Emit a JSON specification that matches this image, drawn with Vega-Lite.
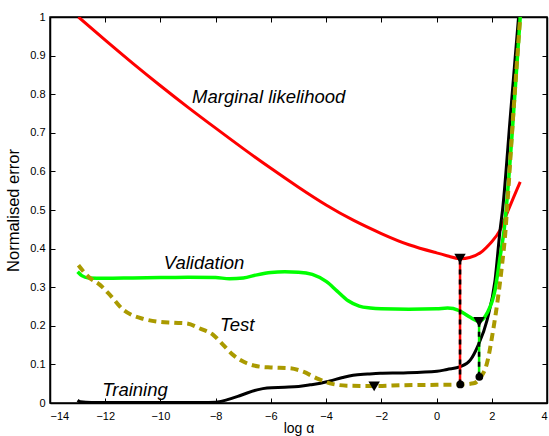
{
  "$schema": "https://vega.github.io/schema/vega-lite/v6.json",
  "width": 497,
  "height": 386,
  "autosize": {"type": "none"},
  "padding": {"left": 50, "top": 17, "right": 2, "bottom": 33},
  "background": "white",
  "config": {
    "view": {"stroke": "black", "strokeWidth": 1.5},
    "font": "Liberation Sans",
    "axis": {
      "grid": false,
      "domainColor": "black",
      "domainWidth": 1.5,
      "tickColor": "black",
      "tickWidth": 1,
      "tickSize": -5,
      "labelColor": "black",
      "labelFont": "Liberation Sans",
      "labelFontSize": 11,
      "titleFont": "Liberation Sans",
      "titleFontWeight": "normal",
      "titleColor": "black"
    }
  },
  "datasets": {
    "red": [
      {"x": -12.97, "y": 1.0}, {"x": -12, "y": 0.94}, {"x": -11, "y": 0.88}, {"x": -10, "y": 0.822},
      {"x": -9, "y": 0.766}, {"x": -8, "y": 0.712}, {"x": -7, "y": 0.659}, {"x": -6, "y": 0.608},
      {"x": -5, "y": 0.559}, {"x": -4, "y": 0.513}, {"x": -3, "y": 0.473}, {"x": -2, "y": 0.439},
      {"x": -1, "y": 0.41}, {"x": 0, "y": 0.389}, {"x": 0.5, "y": 0.379}, {"x": 0.85, "y": 0.374},
      {"x": 1.2, "y": 0.377}, {"x": 1.6, "y": 0.39}, {"x": 2.0, "y": 0.418}, {"x": 2.3, "y": 0.448},
      {"x": 2.6, "y": 0.5}, {"x": 3.03, "y": 0.573}
    ],
    "green": [
      {"x": -13, "y": 0.34}, {"x": -12.85, "y": 0.33}, {"x": -12.6, "y": 0.324}, {"x": -12, "y": 0.323},
      {"x": -11, "y": 0.324}, {"x": -10, "y": 0.325}, {"x": -9, "y": 0.326}, {"x": -8, "y": 0.325},
      {"x": -7.5, "y": 0.322}, {"x": -7, "y": 0.324}, {"x": -6.5, "y": 0.332}, {"x": -6, "y": 0.338},
      {"x": -5.5, "y": 0.34}, {"x": -5, "y": 0.339}, {"x": -4.5, "y": 0.333}, {"x": -4, "y": 0.315},
      {"x": -3.6, "y": 0.29}, {"x": -3.2, "y": 0.265}, {"x": -2.8, "y": 0.251}, {"x": -2.4, "y": 0.246},
      {"x": -2, "y": 0.244}, {"x": -1, "y": 0.243}, {"x": 0, "y": 0.244}, {"x": 0.4, "y": 0.246},
      {"x": 0.8, "y": 0.24}, {"x": 1.0, "y": 0.232}, {"x": 1.22, "y": 0.222}, {"x": 1.54, "y": 0.212},
      {"x": 1.83, "y": 0.233}, {"x": 2.12, "y": 0.293}, {"x": 2.3, "y": 0.378}, {"x": 2.45, "y": 0.45},
      {"x": 2.74, "y": 0.7}, {"x": 3.03, "y": 1.0}
    ],
    "black": [
      {"x": -13, "y": 0.007}, {"x": -12.9, "y": 0.003}, {"x": -12.5, "y": 0.001}, {"x": -10, "y": 0.001},
      {"x": -8.5, "y": 0.001}, {"x": -8, "y": 0.002}, {"x": -7.6, "y": 0.008}, {"x": -7.2, "y": 0.017},
      {"x": -6.86, "y": 0.026}, {"x": -6.5, "y": 0.034}, {"x": -6.14, "y": 0.039}, {"x": -5.5, "y": 0.041},
      {"x": -5, "y": 0.043}, {"x": -4.58, "y": 0.047}, {"x": -4.2, "y": 0.051}, {"x": -3.86, "y": 0.057},
      {"x": -3.4, "y": 0.066}, {"x": -3.02, "y": 0.072}, {"x": -2.5, "y": 0.075}, {"x": -2.04, "y": 0.077},
      {"x": -1.2, "y": 0.078}, {"x": 0.02, "y": 0.082}, {"x": 0.38, "y": 0.087}, {"x": 0.86, "y": 0.094},
      {"x": 1.22, "y": 0.111}, {"x": 1.51, "y": 0.15}, {"x": 1.83, "y": 0.215}, {"x": 2.12, "y": 0.319},
      {"x": 2.3, "y": 0.448}, {"x": 2.39, "y": 0.5}, {"x": 2.68, "y": 0.75}, {"x": 2.97, "y": 1.0}
    ],
    "test": [
      {"x": -12.97, "y": 0.357}, {"x": -12.61, "y": 0.327}, {"x": -12.19, "y": 0.306}, {"x": -11.83, "y": 0.28},
      {"x": -11.34, "y": 0.241}, {"x": -11.04, "y": 0.228}, {"x": -10.62, "y": 0.218}, {"x": -10.13, "y": 0.211},
      {"x": -9.53, "y": 0.208}, {"x": -9.05, "y": 0.206}, {"x": -8.57, "y": 0.193}, {"x": -8.08, "y": 0.176},
      {"x": -7.72, "y": 0.15}, {"x": -7.36, "y": 0.124}, {"x": -6.87, "y": 0.103}, {"x": -6.39, "y": 0.094},
      {"x": -6.0, "y": 0.092}, {"x": -5.3, "y": 0.09}, {"x": -4.83, "y": 0.081}, {"x": -4.34, "y": 0.064},
      {"x": -3.86, "y": 0.051}, {"x": -3.25, "y": 0.045}, {"x": -2.26, "y": 0.044}, {"x": -1.2, "y": 0.046},
      {"x": 0.01, "y": 0.047}, {"x": 0.86, "y": 0.048}, {"x": 1.34, "y": 0.051}, {"x": 1.58, "y": 0.065},
      {"x": 1.83, "y": 0.104}, {"x": 2.05, "y": 0.189}, {"x": 2.23, "y": 0.275}, {"x": 2.38, "y": 0.363},
      {"x": 2.49, "y": 0.44}, {"x": 2.55, "y": 0.5}, {"x": 2.78, "y": 0.75}, {"x": 3.03, "y": 1.0}
    ],
    "rules": [
      {"x": 0.85, "y": 0.048, "y2": 0.374, "c": "red"},
      {"x": 1.54, "y": 0.068, "y2": 0.21, "c": "green"}
    ],
    "triangles": [
      {"x": 0.85, "y": 0.374}, {"x": 1.54, "y": 0.21}, {"x": -2.26, "y": 0.043}
    ],
    "circles": [
      {"x": 0.86, "y": 0.048}, {"x": 1.55, "y": 0.068}
    ],
    "labels": [
      {"x": -6.08, "y": 0.794, "t": "Marginal likelihood"},
      {"x": -8.42, "y": 0.363, "t": "Validation"},
      {"x": -7.22, "y": 0.202, "t": "Test"},
      {"x": -10.92, "y": 0.034, "t": "Training"}
    ]
  },
  "resolve": {"axis": {"x": "independent", "y": "independent"}},
  "layer": [
    {
      "data": {"name": "red"},
      "mark": {"type": "line", "color": "#ff0000", "strokeWidth": 3, "interpolate": "natural", "clip": true},
      "encoding": {
        "x": {"field": "x", "type": "quantitative",
              "scale": {"domain": [-14, 4], "nice": false, "zero": false},
              "axis": {"orient": "bottom", "values": [-14, -12, -10, -8, -6, -4, -2, 0, 2, 4],
                       "labelExpr": "replace(format(datum.value, 'd'), '-', '\u2212')",
                       "labelPadding": 12, "title": "log \u03b1", "titleFontSize": 14, "titlePadding": 0}},
        "y": {"field": "y", "type": "quantitative",
              "scale": {"domain": [0, 1], "nice": false, "zero": false},
              "axis": {"orient": "left", "values": [0, 0.1, 0.2, 0.3, 0.4, 0.5, 0.6, 0.7, 0.8, 0.9, 1],
                       "format": ".1~f", "labelPadding": 10, "title": "Normalised error",
                       "titleFontSize": 16.5, "titlePadding": 8}}
      }
    },
    {
      "data": {"name": "black"},
      "mark": {"type": "line", "color": "black", "strokeWidth": 3, "interpolate": "monotone", "clip": true},
      "encoding": {
        "x": {"field": "x", "type": "quantitative",
              "axis": {"orient": "top", "values": [-14, -12, -10, -8, -6, -4, -2, 0, 2, 4], "labels": false, "title": null}},
        "y": {"field": "y", "type": "quantitative",
              "axis": {"orient": "right", "values": [0, 0.1, 0.2, 0.3, 0.4, 0.5, 0.6, 0.7, 0.8, 0.9, 1], "labels": false, "title": null}}
      }
    },
    {
      "data": {"name": "green"},
      "mark": {"type": "line", "color": "#00ff00", "strokeWidth": 3.5, "interpolate": "monotone", "clip": true},
      "encoding": {
        "x": {"field": "x", "type": "quantitative", "axis": null},
        "y": {"field": "y", "type": "quantitative", "axis": null}
      }
    },
    {
      "data": {"name": "test"},
      "mark": {"type": "line", "color": "#aa9a00", "strokeWidth": 4, "strokeDash": [8, 5], "interpolate": "monotone", "clip": true},
      "encoding": {
        "x": {"field": "x", "type": "quantitative", "axis": null},
        "y": {"field": "y", "type": "quantitative", "axis": null}
      }
    },
    {
      "data": {"name": "rules"},
      "mark": {"type": "rule", "strokeWidth": 2.5},
      "encoding": {
        "x": {"field": "x", "type": "quantitative", "axis": null},
        "y": {"field": "y", "type": "quantitative", "axis": null},
        "y2": {"field": "y2"},
        "color": {"field": "c", "type": "nominal", "scale": {"domain": ["red", "green"], "range": ["#ff0000", "#00ff00"]}, "legend": null}
      }
    },
    {
      "data": {"name": "rules"},
      "mark": {"type": "rule", "strokeWidth": 2.5, "color": "black", "strokeDash": [5, 5]},
      "encoding": {
        "x": {"field": "x", "type": "quantitative", "axis": null},
        "y": {"field": "y", "type": "quantitative", "axis": null},
        "y2": {"field": "y2"}
      }
    },
    {
      "data": {"name": "triangles"},
      "mark": {"type": "point", "shape": "triangle-down", "filled": true, "color": "black", "opacity": 1, "size": 130},
      "encoding": {
        "x": {"field": "x", "type": "quantitative", "axis": null},
        "y": {"field": "y", "type": "quantitative", "axis": null}
      }
    },
    {
      "data": {"name": "circles"},
      "mark": {"type": "point", "shape": "circle", "filled": true, "color": "black", "opacity": 1, "size": 60},
      "encoding": {
        "x": {"field": "x", "type": "quantitative", "axis": null},
        "y": {"field": "y", "type": "quantitative", "axis": null}
      }
    },
    {
      "data": {"name": "labels"},
      "mark": {"type": "text", "font": "Liberation Sans", "fontStyle": "italic", "fontSize": 18.5, "color": "black", "align": "center", "baseline": "middle"},
      "encoding": {
        "x": {"field": "x", "type": "quantitative", "axis": null},
        "y": {"field": "y", "type": "quantitative", "axis": null},
        "text": {"field": "t"}
      }
    }
  ]
}
